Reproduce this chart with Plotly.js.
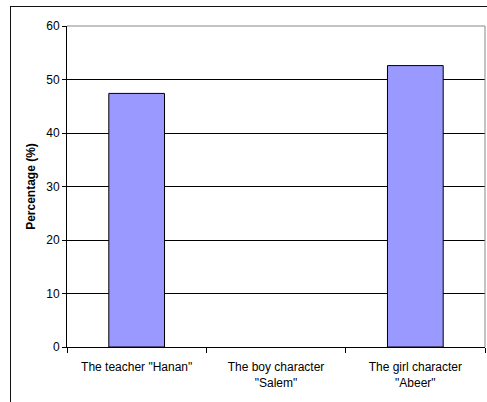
<!DOCTYPE html>
<html>
<head>
<meta charset="utf-8">
<script src="https://cdn.plot.ly/plotly-3.0.1.min.js"></script>
<style>
  html, body { margin: 0; padding: 0; background: #fff; }
  #wrap { position: relative; width: 487px; height: 402px; overflow: hidden; }
  #frame { position: absolute; left: 10px; top: 6px; width: 490px; height: 410px;
           border-left: 1.5px solid #111; border-top: 1.5px solid #111; box-sizing: border-box; pointer-events: none; }
  #chart { position: absolute; left: 0; top: 0; width: 487px; height: 402px; }
</style>
</head>
<body>
<div id="wrap">
  <div id="chart"></div>
  <div id="frame"></div>
</div>
<script>
// Share of pupils choosing each character
const characters = ['The teacher "Hanan"', 'The boy character<br>"Salem"', 'The girl character<br>"Abeer"'];
const percentages = [47.4, 0, 52.6];
const yTicks = [0, 10, 20, 30, 40, 50, 60];

const font = { family: 'Liberation Sans, Arial, sans-serif', color: '#000' };

const trace = {
  type: 'bar',
  x: characters,
  y: percentages,
  width: 0.4,
  marker: {
    color: '#9999FF',
    // an empty bar leaves no outline on the axis
    line: { color: '#000', width: percentages.map(v => (v > 0 ? 1 : 0)) }
  },
  hoverinfo: 'x+y'
};

const layout = {
  width: 487,
  height: 402,
  margin: { l: 67, r: 2, t: 26, b: 55 },
  paper_bgcolor: '#fff',
  plot_bgcolor: '#fff',
  showlegend: false,
  font: Object.assign({ size: 12 }, font),
  xaxis: {
    type: 'category',
    tickson: 'boundaries',
    ticks: 'outside',
    ticklen: 5,
    tickcolor: '#000',
    ticklabelstandoff: 9,
    showline: true,
    linecolor: '#000',
    linewidth: 1,
    showgrid: false,
    tickfont: Object.assign({ size: 12 }, font),
    fixedrange: true
  },
  yaxis: {
    range: [0, 60],
    tickvals: yTicks,
    ticks: 'outside',
    ticklen: 4,
    tickcolor: '#000',
    showline: true,
    linecolor: '#000',
    linewidth: 1,
    showgrid: true,
    gridcolor: '#000',
    gridwidth: 1,
    zeroline: false,
    tickfont: Object.assign({ size: 12 }, font),
    title: { text: '<b>Percentage (%)</b>', font: Object.assign({ size: 12 }, font), standoff: 8 },
    fixedrange: true
  },
  shapes: [
    // light grey border on the top and right of the plot area
    { type: 'line', xref: 'paper', yref: 'paper', x0: 0, x1: 1, y0: 1, y1: 1, line: { color: '#888', width: 1 } },
    { type: 'line', xref: 'paper', yref: 'paper', x0: 1, x1: 1, y0: 0, y1: 1, line: { color: '#888', width: 1 } }
  ]
};

Plotly.newPlot('chart', [trace], layout, { displayModeBar: false, staticPlot: true });
</script>
</body>
</html>
